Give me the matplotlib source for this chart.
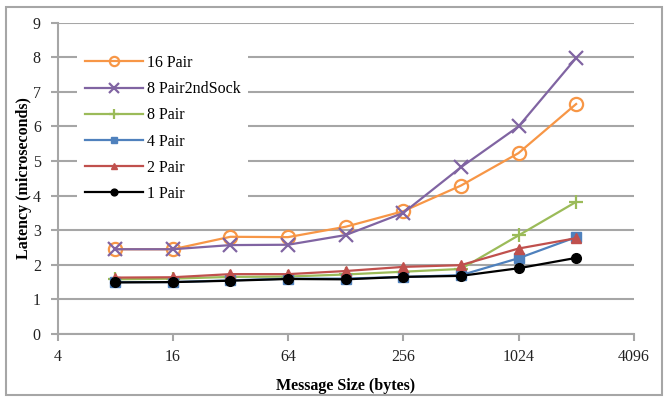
import matplotlib
matplotlib.use('Agg')
import matplotlib.pyplot as plt
from matplotlib.patches import Rectangle

plt.rcParams['font.family'] = ['Liberation Serif', 'DejaVu Serif']

# message sizes (bytes)
sizes = [8, 16, 32, 64, 128, 256, 512, 1024, 2048]

# latency in microseconds
pair16 = [2.45, 2.45, 2.81, 2.80, 3.10, 3.55, 4.29, 5.23, 6.65]
pair8_2nd = [2.45, 2.45, 2.57, 2.58, 2.86, 3.50, 4.82, 6.00, 7.98]
pair8 = [1.58, 1.60, 1.65, 1.66, 1.72, 1.80, 1.88, 2.85, 3.82]
pair4 = [1.50, 1.50, 1.55, 1.60, 1.60, 1.65, 1.70, 2.19, 2.80]
pair2 = [1.63, 1.64, 1.73, 1.73, 1.82, 1.94, 1.99, 2.47, 2.77]
pair1 = [1.49, 1.50, 1.54, 1.59, 1.58, 1.65, 1.68, 1.90, 2.20]

xticks = [4, 16, 64, 256, 1024, 4096]

fig = plt.figure(figsize=(6.65, 3.99), dpi=100)
ax = fig.add_axes([0.0865, 0.163, 0.8665, 0.78])

grid_c = '#a6a6a6'
fs = 11.5

ax.plot(sizes, pair16, color='#f79646', lw=1.6, marker='o', ms=9.5,
        mfc='none', mec='#f79646', mew=1.6, label='16 Pair')
ax.plot(sizes, pair8_2nd, color='#8064a2', lw=1.6, marker='x', ms=9.5,
        mew=1.6, label='8 Pair2ndSock')
ax.plot(sizes, pair8, color='#9bbb59', lw=1.6, marker='+', ms=10,
        mew=1.6, label='8 Pair')
ax.plot(sizes, pair4, color='#4f81bd', lw=1.6, marker='s', ms=7,
        label='4 Pair')
ax.plot(sizes, pair2, color='#c0504d', lw=1.6, marker='^', ms=7,
        label='2 Pair')
ax.plot(sizes, pair1, color='black', lw=1.6, marker='o', ms=7,
        label='1 Pair')

ax.set_xscale('log', base=2)
ax.set_xlim(4, 4096)
ax.set_xticks(xticks)
ax.set_xticklabels([str(t) for t in xticks])
ax.minorticks_off()
ax.set_ylim(0, 9)
ax.set_yticks(range(0, 10))

ax.grid(axis='y', color=grid_c, lw=1.5)
ax.set_axisbelow(True)
for s in ['top', 'right']:
    ax.spines[s].set_visible(False)
for s in ['left', 'bottom']:
    ax.spines[s].set_color(grid_c)
    ax.spines[s].set_linewidth(1.5)
ax.tick_params(axis='both', colors=grid_c, width=1.5, length=5, labelsize=fs,
               labelcolor='#222222')
ax.tick_params(axis='y', pad=7)
ax.tick_params(axis='x', pad=6)

ax.set_xlabel('Message Size (bytes)', fontweight='bold', fontsize=fs, labelpad=9)
ax.set_ylabel('Latency (microseconds)', fontweight='bold', fontsize=fs, labelpad=0.5)

leg = ax.legend(loc='upper left', bbox_to_anchor=(0.02, 0.948), frameon=True,
                fontsize=fs, handlelength=3.6, handletextpad=0.25,
                labelspacing=0.64, borderpad=0.5, markerscale=0.7)
leg.get_frame().set_facecolor('white')
leg.get_frame().set_edgecolor('none')
leg.get_frame().set_alpha(1)

fig.patches.append(Rectangle((0.009, 0.01), 0.986, 0.972, transform=fig.transFigure,
                             fill=False, edgecolor='#a6a6a6', lw=1.5))

fig.savefig('out.png', dpi=100)
